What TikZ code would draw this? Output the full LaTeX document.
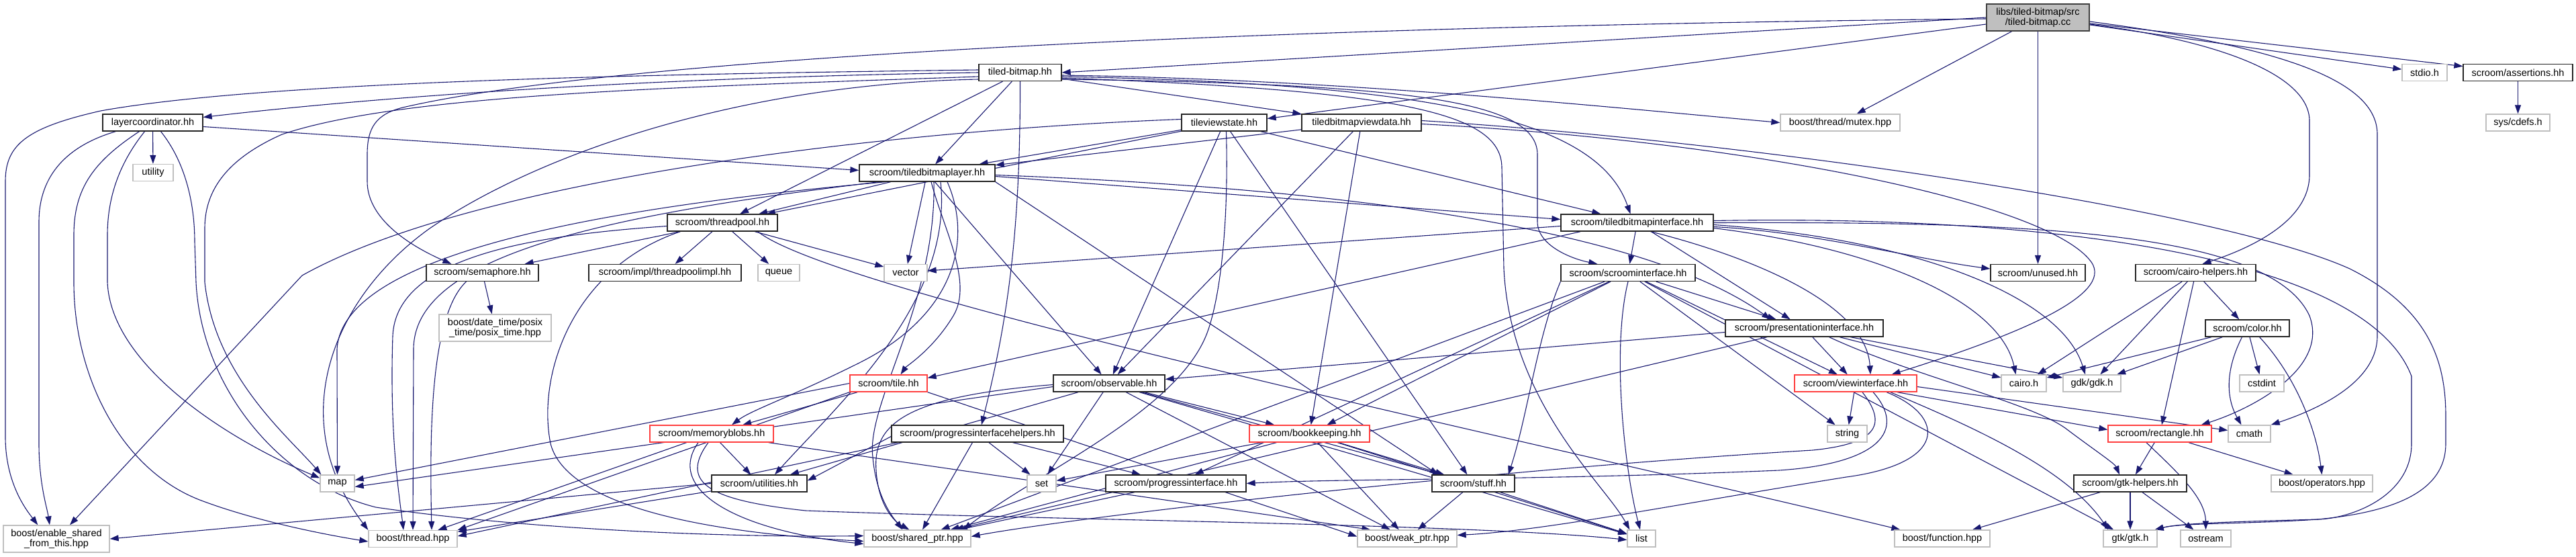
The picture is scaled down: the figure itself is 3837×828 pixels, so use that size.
\documentclass[tikz,border=0pt]{standalone}
\usepackage{fontspec}
\setmainfont{Liberation Sans}
\usetikzlibrary{arrows.meta,calc}
\definecolor{edgec}{RGB}{25,25,112}
\definecolor{grayb}{RGB}{191,191,191}
\definecolor{redb}{RGB}{255,64,64}
\definecolor{rootf}{RGB}{191,191,191}
\pgfdeclarelayer{bg}
\pgfsetlayers{bg,main}
\begin{document}
\begin{tikzpicture}[x=1pt,y=-1pt,
 every node/.style={font=\fontsize{14.5}{15}\selectfont, inner sep=0pt, minimum height=25pt, align=center, line width=1.3pt, fill=white},
 bx/.style={draw=black!85},
 gx/.style={draw=grayb},
 rx/.style={draw=redb},
 root/.style={draw=black!75, fill=rootf},
 e/.style={draw=edgec, line width=1.1pt, -{Triangle[length=13pt,width=9pt]}}]
\useasboundingbox (0,0) rectangle (3837,828);
% nodes
\node[root,minimum width=153pt,minimum height=40pt] (cc) at (3035.5,26) {libs/tiled-bitmap/src\\/tiled-bitmap.cc};
\node[bx,minimum width=123pt] (tb) at (1519.5,108) {tiled-bitmap.hh};
\node[gx,minimum width=67pt] (stdio) at (3611.5,108) {stdio.h};
\node[bx,minimum width=163pt] (assert) at (3750.5,108) {scroom/assertions.hh};
\node[bx,minimum width=149pt] (lc) at (227.5,182.5) {layercoordinator.hh};
\node[bx,minimum width=127pt] (tvs) at (1823.5,182.5) {tileviewstate.hh};
\node[bx,minimum width=178pt] (tbvd) at (2028,182.5) {tiledbitmapviewdata.hh};
\node[gx,minimum width=178pt] (mutex) at (2741,182.5) {boost/thread/mutex.hpp};
\node[gx,minimum width=95pt] (cdefs) at (3750.5,182.5) {sys/cdefs.h};
\node[gx,minimum width=60pt] (utility) at (228,257) {utility};
\node[bx,minimum width=202pt] (tbl) at (1381,257.5) {scroom/tiledbitmaplayer.hh};
\node[bx,minimum width=164pt] (tp) at (1076,331.5) {scroom/threadpool.hh};
\node[bx,minimum width=227pt] (tbi) at (2438.5,331.5) {scroom/tiledbitmapinterface.hh};
\node[bx,minimum width=167pt] (sem) at (718.5,406) {scroom/semaphore.hh};
\node[bx,minimum width=227pt] (tpi) at (990.5,406) {scroom/impl/threadpoolimpl.hh};
\node[gx,minimum width=62pt] (queue) at (1160,406) {queue};
\node[gx,minimum width=64pt] (vector) at (1349,406) {vector};
\node[bx,minimum width=200pt] (si) at (2425,406) {scroom/scroominterface.hh};
\node[bx,minimum width=141pt] (unused) at (3035.5,406) {scroom/unused.hh};
\node[bx,minimum width=179pt] (ch) at (3270.5,406) {scroom/cairo-helpers.hh};
\node[gx,minimum width=167pt,minimum height=40pt] (posix) at (737.5,488) {boost/date\_time/posix\\\_time/posix\_time.hpp};
\node[bx,minimum width=235pt] (pi) at (2687.5,488.5) {scroom/presentationinterface.hh};
\node[bx,minimum width=125pt] (color) at (3347.5,488.5) {scroom/color.hh};
\node[rx,minimum width=115pt] (tile) at (1323.5,570.5) {scroom/tile.hh};
\node[bx,minimum width=166pt] (obs) at (1652,570.5) {scroom/observable.hh};
\node[rx,minimum width=182pt] (vi) at (2764,570.5) {scroom/viewinterface.hh};
\node[gx,minimum width=67pt] (cairo) at (3014.5,570.5) {cairo.h};
\node[gx,minimum width=86pt] (gdk) at (3116,570.5) {gdk/gdk.h};
\node[gx,minimum width=66pt] (cstdint) at (3369,570.5) {cstdint};
\node[rx,minimum width=184pt] (mb) at (1060,645.5) {scroom/memoryblobs.hh};
\node[bx,minimum width=256pt] (pih) at (1456,645.5) {scroom/progressinterfacehelpers.hh};
\node[rx,minimum width=179pt] (bk) at (1950.5,645.5) {scroom/bookkeeping.hh};
\node[gx,minimum width=59pt] (string) at (2751.5,645.5) {string};
\node[rx,minimum width=154pt] (rect) at (3217,645.5) {scroom/rectangle.hh};
\node[gx,minimum width=63pt] (cmath) at (3350.5,645.5) {cmath};
\node[gx,minimum width=51pt] (map) at (502.5,719.5) {map};
\node[bx,minimum width=142pt] (util) at (1131,719.5) {scroom/utilities.hh};
\node[gx,minimum width=43pt] (set) at (1551.5,719.5) {set};
\node[bx,minimum width=209pt] (prog) at (1751.5,719.5) {scroom/progressinterface.hh};
\node[bx,minimum width=123pt] (stuff) at (2194.5,719.5) {scroom/stuff.hh};
\node[bx,minimum width=168pt] (gtkh) at (3173,719.5) {scroom/gtk-helpers.hh};
\node[gx,minimum width=151pt] (ops) at (3458.5,719.5) {boost/operators.hpp};
\node[gx,minimum width=158pt,minimum height=40pt] (esft) at (84,802) {boost/enable\_shared\\\_from\_this.hpp};
\node[gx,minimum width=132pt] (thread) at (615,802) {boost/thread.hpp};
\node[gx,minimum width=159pt] (sp) at (1366.5,801.5) {boost/shared\_ptr.hpp};
\node[gx,minimum width=148pt] (wp) at (2096,801.5) {boost/weak\_ptr.hpp};
\node[gx,minimum width=42pt] (list) at (2445,801.5) {list};
\node[gx,minimum width=142pt] (func) at (2893,801.5) {boost/function.hpp};
\node[gx,minimum width=80pt] (gtk) at (3173,801.5) {gtk/gtk.h};
\node[gx,minimum width=75pt] (ostream) at (3285.5,801.5) {ostream};
\begin{pgfonlayer}{bg}
% cc
\draw[e] (cc.west) -- (tb.east);
\draw[e] ($(cc.west)+(0,10)$) -- ($(tvs.east)+(0,-6)$);
\draw[e] (cc) -- (mutex);
\draw[e] (cc) -- (unused);
\draw[e] (cc) -- (stdio);
\draw[e] (cc) -- (assert);
\draw[e] ($(cc.east)+(0,10)$) .. controls (3300,60) and (3440,110) .. (3440,180) -- (3440,260) .. controls (3440,330) and (3350,370) .. ($(ch.north)+(10,0)$);
\draw[e] ($(cc.east)+(0,6)$) .. controls (3400,70) and (3541,120) .. (3541,200) -- (3541,500) .. controls (3541,570) and (3450,610) .. (cmath.north east);
\draw[e] ($(cc.west)+(0,2)$) .. controls (1800,40) and (900,90) .. (600,160) .. controls (560,170) and (547,190) .. (547,230) -- (547,270) .. controls (547,330) and (620,370) .. ($(sem.north west)+(38,0)$);
\draw[e] (assert) -- (cdefs);
% tb
\draw[e] (tb.west) .. controls (1000,115) and (600,140) .. ($(lc.east)+(0,-8)$);
\draw[e] ($(tb.west)+(0,-4)$) .. controls (1000,110) and (400,120) .. (150,165) .. controls (40,190) and (8,215) .. (8,270) -- (8,650) .. controls (8,720) and (40,760) .. ($(esft.north west)+(52,0)$);
\draw[e] ($(tb.west)+(0,6)$) .. controls (1000,130) and (600,140) .. (420,200) .. controls (330,240) and (305,290) .. (305,340) -- (305,420) .. controls (320,560) and (430,650) .. ($(map.north west)+(2,0)$);
\draw[e] ($(tb.west)+(0,10)$) .. controls (1100,125) and (800,230) .. (640,340) .. controls (500,440) and (420,620) .. (thread.north west);
\draw[e] (tb) -- (tp);
\draw[e] (tb) -- (tbl);
\draw[e] (tb.south) .. controls (1520,350) and (1500,480) .. ($(pih.north)+(6,0)$);
\draw[e] (tb) -- (tbvd);
\draw[e] ($(tb.east)+(0,4)$) .. controls (2000,118) and (2400,160) .. (mutex.west);
\draw[e] ($(tb.east)+(0,6)$) .. controls (2150,125) and (2380,180) .. ($(tbi.north)+(-10,0)$);
\draw[e] ($(tb.east)+(0,10)$) .. controls (2100,125) and (2290,150) .. (2290,230) -- (2290,330) .. controls (2290,365) and (2340,385) .. ($(si.north west)+(55,0)$);
\draw[e] ($(tb.east)+(0,8)$) .. controls (2100,135) and (2237,170) .. (2237,250) -- (2240,400) .. controls (2250,600) and (2390,720) .. ($(list.north west)+(4,0)$);
% lc
\draw[e] (lc) -- (utility);
\draw[e] ($(lc.east)+(0,6)$) -- ($(tbl.west)+(0,-4)$);
\draw[e] ($(lc.south west)+(20,0)$) .. controls (90,220) and (58,270) .. (58,330) -- (58,660) .. controls (58,720) and (70,755) .. ($(esft.north)+(-10,0)$);
\draw[e] ($(lc.south)+(-20,0)$) .. controls (140,240) and (110,280) .. (110,350) -- (110,420) .. controls (110,560) and (180,700) .. (300,745) .. controls (380,775) and (480,795) .. ($(thread.west)+(0,4)$);
\draw[e] ($(lc.south)+(-12,0)$) .. controls (180,240) and (160,290) .. (160,350) -- (160,420) .. controls (165,540) and (330,650) .. ($(map.west)+(0,-8)$);
\draw[e] ($(lc.south)+(12,0)$) .. controls (275,240) and (290,300) .. (290,360) -- (292,420) .. controls (300,580) and (420,720) .. (560,755) .. controls (800,790) and (1100,800) .. ($(sp.west)+(0,-4)$);
% tvs
\draw[e] (tvs) -- (tbl);
\draw[e] (tvs) -- (tp);
\draw[e] ($(tvs.west)+(0,-5)$) .. controls (1300,195) and (700,270) .. (450,410) -- ($(esft.north)+(20,0)$);
\draw[e] (tvs) -- (obs);
\draw[e] ($(tvs.south)+(3,0)$) .. controls (1830,320) and (1820,430) .. (1800,490) .. controls (1760,610) and (1550,700) .. ($(sp.north east)+(-12,0)$);
\draw[e] (tvs) -- (stuff);
\draw[e] (tvs) -- (tbi);
% tbvd
\draw[e] (tbvd) -- (tbl);
\draw[e] (tbvd) -- (obs);
\draw[e] (tbvd) -- (bk);
\draw[e] ($(tbvd.east)+(0,-3)$) .. controls (2600,210) and (3300,310) .. (3500,400) .. controls (3620,460) and (3643,540) .. (3643,620) -- (3643,660) .. controls (3643,720) and (3590,760) .. (3452,773) .. controls (3350,780) and (3250,778) .. ($(gtk.north east)+(-4,0)$);
\draw[e] ($(tbvd.east)+(0,2)$) .. controls (2600,210) and (3050,300) .. (3115,390) .. controls (3150,440) and (3000,500) .. ($(vi.north east)+(-38,0)$);
% tbl
\draw[e] (tbl) -- (tp);
\draw[e] (tbl) -- (vector);
\draw[e] ($(tbl.south)+(6,0)$) .. controls (1405,340) and (1450,420) .. (1420,470) .. controls (1390,520) and (1350,545) .. ($(tile.north)+(18,0)$);
\draw[e] ($(tbl.south)+(30,0)$) .. controls (1450,360) and (1420,470) .. (1280,540) .. controls (1180,590) and (1120,610) .. ($(mb.north)+(30,0)$);
\draw[e] (tbl) -- (obs);
\draw[e] ($(tbl.east)+(0,5)$) -- ($(tbi.west)+(0,-5)$);
\draw[e] ($(tbl.east)+(0,3)$) .. controls (2000,280) and (2450,340) .. ($(pi.north west)+(68,0)$);
\draw[e] (tbl.south east) -- ($(stuff.north west)+(10,0)$);
\draw[e] ($(tbl.south west)+(40,0)$) .. controls (1000,300) and (510,360) .. (502,520) -- (map.north);
\draw[e] ($(tbl.south west)+(30,0)$) .. controls (900,320) and (616,380) .. (616,520) -- (thread.north);
\draw[e] ($(tbl.south)+(10,0)$) .. controls (1395,450) and (1290,600) .. (1300,680) .. controls (1305,740) and (1330,770) .. ($(sp.north west)+(58,0)$);
\draw[e] ($(tbl.south)+(20,0)$) .. controls (1420,450) and (1250,600) .. ($(util.north)+(23,0)$);
% tp
\draw[e] (tp) -- (sem);
\draw[e] (tp) -- (tpi);
\draw[e] (tp) -- (queue);
\draw[e] (tp) -- (vector);
\draw[e] ($(tp.south east)+(-30,0)$) .. controls (1250,440) and (2300,660) .. ($(func.north west)+(9,0)$);
\draw[e] ($(tp.south west)+(20,0)$) .. controls (850,400) and (800,560) .. (820,660) .. controls (840,740) and (1000,790) .. ($(sp.west)+(0,4)$);
\draw[e] ($(tp.west)+(0,5)$) .. controls (800,350) and (590,380) .. (585,500) .. controls (580,650) and (595,740) .. ($(thread.north)+(-14,0)$);
% sem
\draw[e] (sem) -- (posix);
\draw[e] ($(sem.south)+(-24,0)$) .. controls (640,470) and (640,650) .. ($(thread.north)+(28,0)$);
% tbi
\draw[e] ($(tbi.west)+(0,5)$) -- ($(vector.east)+(0,-3)$);
\draw[e] (tbi) -- (si);
\draw[e] ($(tbi.east)+(0,6)$) .. controls (2700,345) and (2850,385) .. ($(unused.west)+(0,-6)$);
\draw[e] (tbi) -- (pi);
\draw[e] ($(tbi.south west)+(30,0)$) -- ($(tile.east)+(0,-8)$);
\draw[e] ($(tbi.south)+(20,0)$) .. controls (2600,380) and (2780,450) .. ($(vi.north)+(22,0)$);
\draw[e] ($(tbi.east)+(0,8)$) .. controls (2800,370) and (2980,450) .. ($(cairo.north)+(-12,0)$);
\draw[e] ($(tbi.east)+(0,3)$) .. controls (2850,355) and (3070,440) .. ($(gdk.north)+(-10,0)$);
\draw[e] (tbi.east) .. controls (3000,330) and (3380,340) .. (3440,470) .. controls (3470,550) and (3350,610) .. ($(rect.north east)+(-16,0)$);
\draw[e] ($(tbi.east)+(0,-3)$) .. controls (3000,320) and (3520,370) .. (3592,560) -- (3592,660) .. controls (3592,740) and (3500,772) .. (3452,773) .. controls (3350,776) and (3250,778) .. ($(gtk.north east)+(-4,0)$);
% si
\draw[e] (si) -- (pi);
\draw[e] (si) -- (vi);
\draw[e] (si) -- (bk);
\draw[e] (si) -- (string);
\draw[e] (si) -- (prog);
\draw[e] (si.south west) .. controls (2290,500) and (2275,620) .. ($(stuff.north east)+(-10,0)$);
\draw[e] (si) -- (sp);
\draw[e] (si.south) .. controls (2400,520) and (2420,700) .. ($(list.north)+(-2,0)$);
\draw[e] (si) -- (gtk);
% pi
\draw[e] ($(pi.west)+(0,6)$) -- ($(obs.east)+(0,-6)$);
\draw[e] (pi) -- (vi);
\draw[e] (pi) -- (cairo);
\draw[e] (pi) -- (gdk);
\draw[e] ($(pi.south)+(37,0)$) .. controls (2850,560) and (3030,600) .. (3080,640) .. controls (3120,670) and (3150,690) .. ($(gtkh.north)+(-16,0)$);
\draw[e] (pi) -- (sp);
% vi
\draw[e] (vi) -- (string);
\draw[e] ($(vi.east)+(0,5)$) -- ($(cmath.west)+(0,-5)$);
\draw[e] ($(vi.south east)+(-30,0)$) -- ($(rect.west)+(0,-6)$);
\draw[e] ($(vi.south east)+(-40,0)$) .. controls (2950,640) and (3080,700) .. ($(gtk.north west)+(8,0)$);
\draw[e] ($(vi.south)+(10,0)$) .. controls (2810,630) and (2800,660) .. (2700,670) .. controls (2200,700) and (1600,770) .. ($(sp.east)+(0,-3)$);
\draw[e] ($(vi.south)+(26,0)$) .. controls (2840,640) and (2800,690) .. (2650,700) .. controls (2300,715) and (2000,712) .. (prog.east);
\draw[e] ($(vi.south)+(46,0)$) .. controls (2900,620) and (2900,690) .. (2750,710) .. controls (2500,750) and (2300,790) .. ($(wp.east)+(0,-5)$);
% ch
\draw[e] (ch) -- (color);
\draw[e] (ch) -- (rect);
\draw[e] (ch) -- (cairo);
\draw[e] (ch) -- (gdk);
% color
\draw[e] (color) -- (cstdint);
\draw[e] ($(color.south)+(-8,0)$) .. controls (3310,560) and (3320,600) .. ($(cmath.north)+(-12,0)$);
\draw[e] ($(color.south)+(18,0)$) .. controls (3420,560) and (3450,640) .. (ops.north);
\draw[e] (color) -- (cairo);
\draw[e] (color) -- (gdk);
% rect
\draw[e] (rect) -- (gtkh);
\draw[e] (rect) -- (ops);
\draw[e] ($(rect.south)+(-20,0)$) .. controls (3240,700) and (3285,740) .. (ostream.north);
% gtkh
\draw[e] (gtkh) -- (func);
\draw[e] (gtkh) -- (gtk);
\draw[e] (gtkh) -- (ostream);
% tile
\draw[e] (tile) -- (mb);
\draw[e] (tile.west) -- ($(map.east)+(0,-5)$);
\draw[e] (tile.south east) -- ($(wp.west)+(0,-3)$);
\draw[e] (tile.south west) -- (thread.north east);
% obs
\draw[e] ($(obs.west)+(0,5)$) -- ($(map.east)+(0,5)$);
\draw[e] (obs) -- (util);
\draw[e] (obs) -- (set);
\draw[e] (obs) -- (stuff);
\draw[e] (obs) -- (bk);
\draw[e] ($(obs.west)+(0,2)$) .. controls (1350,590) and (1300,630) .. (1305,700) .. controls (1308,750) and (1330,775) .. ($(sp.north west)+(68,0)$);
\draw[e] (obs) -- (wp);
\draw[e] (obs) -- (list);
% mb
\draw[e] (mb) -- (util);
\draw[e] (mb) -- (thread);
\draw[e] ($(mb.south)+(-20,0)$) .. controls (990,730) and (1100,790) .. ($(sp.west)+(0,8)$);
\draw[e] ($(mb.south)+(-5,0)$) .. controls (1010,720) and (1060,745) .. (1200,760) .. controls (1600,775) and (2200,780) .. ($(list.west)+(0,2)$);
\draw[e] ($(mb.south east)+(-8,0)$) -- ($(wp.north west)+(20,0)$);
% util
\draw[e] (util.west) -- (esft.east);
\draw[e] (util) -- (thread);
% pih
\draw[e] (pih) -- (set);
\draw[e] (pih) -- (prog);
\draw[e] ($(pih.west)+(0,4)$) -- ($(util.east)+(0,-4)$);
\draw[e] (pih) -- (sp);
\draw[e] ($(pih.south west)+(10,0)$) -- ($(thread.east)+(0,-4)$);
% prog
\draw[e] (prog) -- (sp);
% bk
\draw[e] (bk) -- (set);
\draw[e] (bk) -- (stuff);
\draw[e] (bk) -- (sp);
\draw[e] (bk) -- (wp);
\draw[e] (bk) -- (list);
% stuff
\draw[e] (stuff) -- (wp);
\draw[e] (stuff) -- (list);
\end{pgfonlayer}
\end{tikzpicture}
\end{document}
